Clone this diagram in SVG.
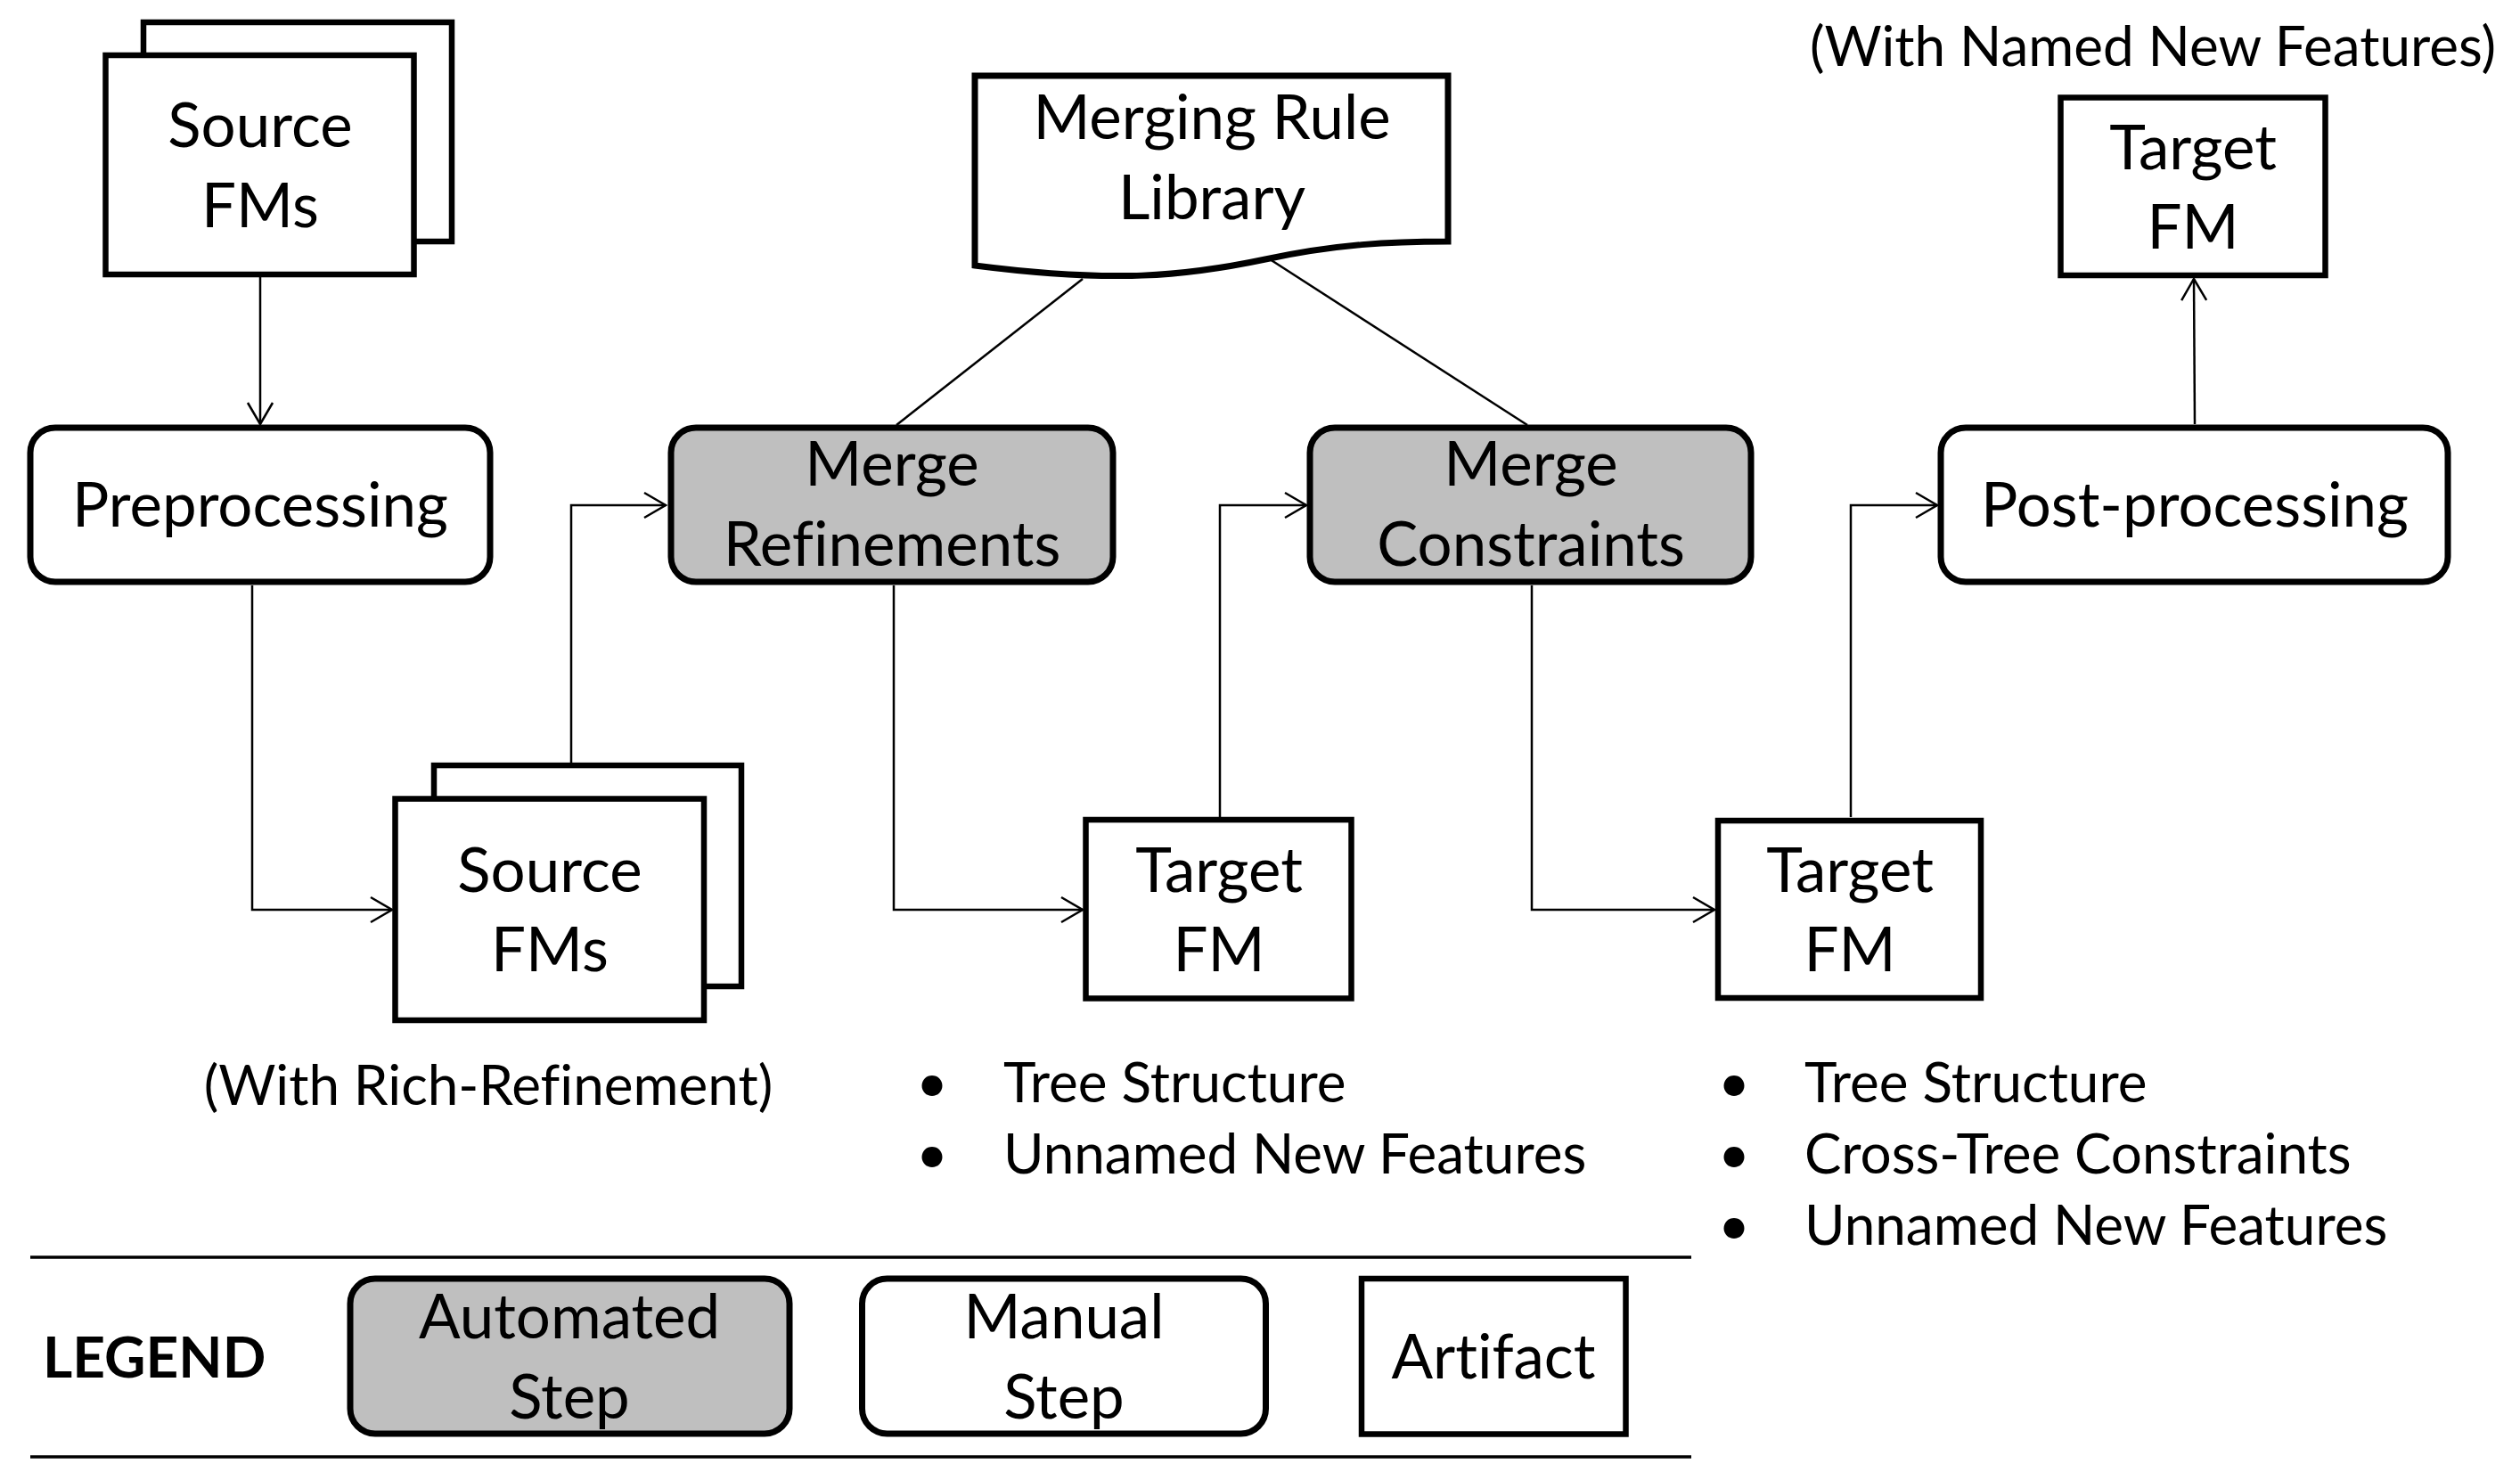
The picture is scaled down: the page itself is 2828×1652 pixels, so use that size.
<svg xmlns="http://www.w3.org/2000/svg" width="2828" height="1652" viewBox="0 0 2828 1652">
<style>
text{font-family:Lato,"Open Sans","Liberation Sans",sans-serif;fill:#000;font-variant-ligatures:none}
.t{font-size:69px;text-anchor:middle}
.s{font-size:62px}
.sc{font-size:62px;text-anchor:middle}
.box{fill:#fff;stroke:#000;stroke-width:6.5}
.step{fill:#fff;stroke:#000;stroke-width:7}
.auto{fill:#BFBFBF;stroke:#000;stroke-width:7}
.c{fill:none;stroke:#000;stroke-width:2.5}
.a{marker-end:url(#arr)}
</style>
<defs>
<marker id="arr" markerUnits="userSpaceOnUse" markerWidth="40" markerHeight="40" viewBox="-30 -20 40 40" refX="0" refY="0" orient="auto" overflow="visible">
<path d="M-24,-14 L0,0 L-24,14" fill="none" stroke="#000" stroke-width="2.5"/>
</marker>
</defs>
<rect width="2828" height="1652" fill="#fff"/>
<g id="connectors">
<path class="c a" d="M292,311 V476"/>
<path class="c a" d="M283,657 V1021 H440"/>
<path class="c a" d="M641,856 V567 H747"/>
<path class="c" d="M1215,313 L1006,477"/>
<path class="c" d="M1422,289 L1714,477"/>
<path class="c a" d="M1003,657 V1021 H1215"/>
<path class="c a" d="M1369,917 V567 H1466"/>
<path class="c a" d="M1719,657 V1021 H1924"/>
<path class="c a" d="M2077,917 V567 H2174"/>
<path class="c a" d="M2463,476 L2462,313"/>
</g>
<g id="source-fms-top">
<rect class="box" x="161" y="25" width="346" height="246"/>
<rect class="box" x="118.5" y="62" width="346" height="246"/>
<text class="t" x="292" y="165">Source</text>
<text class="t" x="292" y="255">FMs</text>
</g>
<g id="preprocessing">
<rect class="step" x="34" y="480" width="516" height="173" rx="28"/>
<text class="t" x="292" y="591">Preprocessing</text>
</g>
<g id="source-fms-rich">
<rect class="box" x="487" y="859" width="345" height="248"/>
<rect class="box" x="443.5" y="896.5" width="346.5" height="248.5"/>
<text class="t" x="617" y="1001">Source</text>
<text class="t" x="617" y="1090">FMs</text>
<text class="sc" x="548" y="1240">(With Rich-Refinement)</text>
</g>
<g id="merging-rule-library">
<path class="step" d="M1094,85 H1625 V271 C1560,271 1500,274 1420,291 C1330,310 1250,318 1094,298 Z"/>
<text class="t" x="1360" y="156">Merging Rule</text>
<text class="t" x="1360" y="246">Library</text>
</g>
<g id="merge-refinements">
<rect class="auto" x="753" y="480" width="496" height="173" rx="28"/>
<text class="t" x="1001" y="545">Merge</text>
<text class="t" x="1001" y="635">Refinements</text>
</g>
<g id="target-fm-1">
<rect class="box" x="1218.5" y="920" width="298" height="200.5"/>
<text class="t" x="1368" y="1001">Target</text>
<text class="t" x="1368" y="1090">FM</text>
<text class="s" x="1028" y="1237">•</text>
<text class="s" x="1126" y="1237">Tree Structure</text>
<text class="s" x="1028" y="1317">•</text>
<text class="s" x="1126" y="1317">Unnamed New Features</text>
</g>
<g id="merge-constraints">
<rect class="auto" x="1470" y="480" width="495" height="173" rx="28"/>
<text class="t" x="1718" y="545">Merge</text>
<text class="t" x="1718" y="635">Constraints</text>
</g>
<g id="target-fm-2">
<rect class="box" x="1928" y="921" width="295" height="199"/>
<text class="t" x="2076" y="1001">Target</text>
<text class="t" x="2076" y="1090">FM</text>
<text class="s" x="1928" y="1237">•</text>
<text class="s" x="2025" y="1237">Tree Structure</text>
<text class="s" x="1928" y="1317">•</text>
<text class="s" x="2025" y="1317">Cross-Tree Constraints</text>
<text class="s" x="1928" y="1397">•</text>
<text class="s" x="2025" y="1397">Unnamed New Features</text>
</g>
<g id="post-processing">
<rect class="step" x="2178" y="480" width="569" height="173" rx="28"/>
<text class="t" x="2463" y="591">Post-processing</text>
</g>
<g id="target-fm-final">
<rect class="box" x="2312.5" y="109.5" width="297" height="199.5"/>
<text class="t" x="2461" y="190">Target</text>
<text class="t" x="2461" y="279">FM</text>
<text class="sc" x="2416" y="74">(With Named New Features)</text>
</g>
<g id="legend">
<line x1="34" y1="1411" x2="1898" y2="1411" stroke="#000" stroke-width="3.5"/>
<line x1="34" y1="1635" x2="1898" y2="1635" stroke="#000" stroke-width="3.5"/>
<text x="48" y="1546" style="font-size:64px;font-weight:bold">LEGEND</text>
<rect class="auto" x="393" y="1435" width="493" height="174" rx="28"/>
<text class="t" x="639" y="1502">Automated</text>
<text class="t" x="639" y="1592">Step</text>
<rect class="step" x="967.5" y="1435" width="453" height="174" rx="28"/>
<text class="t" x="1194" y="1502">Manual</text>
<text class="t" x="1194" y="1592">Step</text>
<rect class="box" x="1528" y="1435" width="296.5" height="174.5"/>
<text class="t" x="1676" y="1547">Artifact</text>
</g>
</svg>
